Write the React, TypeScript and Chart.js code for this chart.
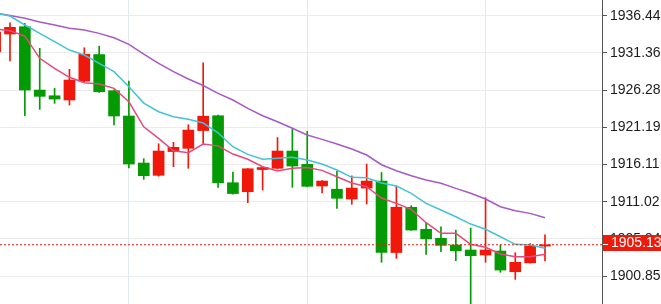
import React, { useEffect, useRef } from "react";
import { Chart, registerables } from "chart.js";

Chart.register(...registerables);

// Candles (index 0 is the partially visible one at the left edge)
const opens = [
  1931.48, 1933.94, 1934.94, 1926.28, 1925.5, 1924.92, 1927.51, 1931.13, 1926.19, 1922.73,
  1916.3, 1914.62, 1917.87, 1918.31, 1920.74, 1922.77, 1913.61, 1912.38, 1915.41, 1915.58,
  1917.94, 1916.12, 1913.16, 1912.72, 1911.38, 1912.88, 1913.84, 1904.07, 1910.25, 1907.24,
  1906.01, 1905.09, 1904.41, 1903.72, 1904.27, 1901.44, 1902.66, 1904.95,
];
const highs = [
  1934.48, 1935.48, 1935.4, 1931.98, 1926.51, 1929.11, 1932.06, 1932.3, 1926.3, 1927.51,
  1916.89, 1918.94, 1919.13, 1921.54, 1930.01, 1922.85, 1915.07, 1915.55, 1915.8, 1919.79,
  1920.91, 1920.64, 1913.9, 1915.17, 1914.55, 1916.16, 1915.0, 1913.16, 1910.47, 1908.17,
  1907.59, 1907.12, 1907.42, 1911.56, 1905.09, 1904.04, 1905.3, 1906.5,
];
const lows = [
  1931.4, 1930.25, 1922.77, 1923.64, 1924.46, 1924.23, 1927.4, 1925.95, 1921.5, 1915.62,
  1914.07, 1914.5, 1915.8, 1915.58, 1918.97, 1912.98, 1912.05, 1910.87, 1912.61, 1915.5,
  1912.98, 1913.05, 1912.2, 1910.11, 1910.66, 1910.7, 1902.73, 1903.27, 1907.1, 1903.82,
  1904.18, 1902.95, 1896.0, 1902.73, 1901.36, 1900.4, 1902.6, 1902.91,
];
const closes = [
  1934.21, 1934.85, 1926.28, 1925.42, 1925.05, 1927.65, 1931.16, 1926.05, 1922.73, 1916.17,
  1914.57, 1917.94, 1918.45, 1920.81, 1922.7, 1913.61, 1912.13, 1915.52, 1915.69, 1917.94,
  1915.89, 1913.12, 1913.84, 1911.48, 1912.88, 1913.84, 1904.09, 1910.26, 1907.14, 1905.94,
  1905.05, 1904.31, 1903.63, 1904.41, 1901.67, 1902.73, 1904.95, 1905.13,
];

// Moving averages
const maFast = [
  1934.62, 1934.39, 1933.66, 1930.62, 1929.25, 1928.02, 1927.28, 1927.1, 1926.51, 1924.68,
  1921.26, 1919.68, 1917.98, 1917.71, 1918.9, 1918.65, 1917.53, 1916.81, 1915.8, 1915.21,
  1915.58, 1915.69, 1915.3, 1914.43, 1913.57, 1913.06, 1911.52, 1910.79, 1909.97, 1908.14,
  1906.69, 1906.69, 1905.19, 1904.78, 1903.86, 1903.49, 1903.49, 1903.82,
];
const maMid = [
  1936.81, 1936.4, 1935.17, 1934.03, 1932.89, 1931.75, 1931.07, 1929.93, 1928.79, 1926.73,
  1924.5, 1923.32, 1922.63, 1922.28, 1921.77, 1920.44, 1918.53, 1917.49, 1916.81, 1916.95,
  1917.08, 1916.71, 1916.17, 1915.35, 1914.35, 1914.29, 1913.57, 1913.16, 1912.16, 1910.79,
  1909.88, 1908.96, 1907.96, 1907.24, 1906.23, 1905.19, 1905.09, 1904.64,
];
const maSlow = [
  1936.81, 1936.47, 1936.09, 1935.58, 1935.17, 1934.72, 1934.49, 1934.03, 1933.43, 1932.53,
  1931.2, 1929.93, 1928.79, 1927.79, 1926.9, 1925.83, 1924.92, 1923.78, 1922.77, 1921.95,
  1921.05, 1920.13, 1919.54, 1918.9, 1918.22, 1917.4, 1916.07, 1915.24, 1914.57, 1913.98,
  1913.53, 1912.84, 1912.16, 1911.38, 1910.33, 1909.78, 1909.42, 1908.82,
];

const yTicks = [1936.44, 1931.36, 1926.28, 1921.19, 1916.11, 1911.02, 1905.94, 1900.85];
const xGridAt = [9, 21, 33];
const lastPrice = 1905.13;

const X_MIN = 0.327;
const X_MAX = 40.836;
const Y_MIN = 1897.03;
const Y_MAX = 1938.59;

const UP = "#f0180a";
const DOWN = "#049a04";
const FONT = "'Liberation Sans', Arial, sans-serif";

export default function App() {
  const ref = useRef<HTMLCanvasElement>(null);

  useEffect(() => {
    const idx = opens.map((_, i) => i);
    const colors = idx.map((i) => (closes[i] >= opens[i] ? UP : DOWN));

    const priceBox = {
      id: "priceBox",
      afterDraw(chart: any) {
        const ys = chart.scales.y;
        const ctx = chart.ctx;
        const y = Math.round(ys.getPixelForValue(lastPrice));
        const left = ys.left + 1;
        ctx.save();
        ctx.fillStyle = "#ee1a0c";
        ctx.fillRect(left, y - 10, chart.width - left, 16);
        ctx.strokeStyle = "#ffffff";
        ctx.lineWidth = 1;
        ctx.beginPath();
        ctx.moveTo(left, y - 0.5);
        ctx.lineTo(left + 5, y - 0.5);
        ctx.stroke();
        ctx.fillStyle = "#ffffff";
        ctx.font = `14px ${FONT}`;
        ctx.textBaseline = "middle";
        ctx.textAlign = "left";
        ctx.fillText(lastPrice.toFixed(2), left + 8, y - 1.5);
        ctx.restore();
      },
    };

    const chart = new Chart(ref.current as HTMLCanvasElement, {
      type: "bar",
      data: {
        datasets: [
          {
            type: "line",
            data: [
              { x: X_MIN, y: lastPrice },
              { x: X_MAX, y: lastPrice },
            ],
            borderColor: UP,
            borderWidth: 1,
            borderDash: [2, 2],
            pointRadius: 0,
            order: 0,
          },
          {
            type: "line",
            data: idx.map((i) => ({ x: i, y: maFast[i] })),
            borderColor: "#e6497c",
            borderWidth: 1.5,
            pointRadius: 0,
            tension: 0,
            order: 1,
          },
          {
            type: "line",
            data: idx.map((i) => ({ x: i, y: maMid[i] })),
            borderColor: "#45c3d6",
            borderWidth: 1.5,
            pointRadius: 0,
            tension: 0,
            order: 2,
          },
          {
            type: "line",
            data: idx.map((i) => ({ x: i, y: maSlow[i] })),
            borderColor: "#a75ac6",
            borderWidth: 1.5,
            pointRadius: 0,
            tension: 0,
            order: 3,
          },
          {
            type: "bar",
            data: idx.map((i) => ({ x: i, y: [opens[i], closes[i]] })),
            backgroundColor: colors,
            borderWidth: 0,
            barThickness: 11,
            minBarLength: 1,
            grouped: false,
            order: 4,
          },
          {
            type: "bar",
            data: idx.map((i) => ({ x: i, y: [lows[i], highs[i]] })),
            backgroundColor: colors,
            borderWidth: 0,
            barThickness: 1,
            grouped: false,
            order: 5,
          },
        ] as any,
      },
      options: {
        animation: false,
        responsive: false,
        devicePixelRatio: 1,
        events: [],
        layout: { padding: 0 },
        plugins: { legend: { display: false }, tooltip: { enabled: false } },
        scales: {
          x: {
            type: "linear",
            min: X_MIN,
            max: X_MAX,
            offset: false,
            afterBuildTicks: (s: any) => {
              s.ticks = xGridAt.map((v) => ({ value: v }));
            },
            afterFit: (s: any) => {
              s.height = 0;
              s.paddingLeft = 0;
              s.paddingRight = 0;
            },
            ticks: { display: false },
            grid: { color: "#e2e8f0", drawTicks: false, offset: false },
            border: { display: false },
          },
          y: {
            position: "right",
            min: Y_MIN,
            max: Y_MAX,
            afterBuildTicks: (s: any) => {
              s.ticks = yTicks.map((v) => ({ value: v }));
            },
            afterFit: (s: any) => {
              s.width = 59;
              s.paddingTop = 0;
              s.paddingBottom = 0;
            },
            ticks: {
              callback: (v: any) => Number(v).toFixed(2),
              color: "#1c1c1c",
              font: { family: FONT, size: 14 },
              padding: 3,
            },
            grid: { color: "#ebebeb", tickColor: "#555555", tickLength: 5 },
            border: { display: true, color: "#555555", width: 1 },
          },
        },
      },
      plugins: [priceBox],
    });
    return () => chart.destroy();
  }, []);

  return (
    <div style={{ position: "absolute", left: 0, top: 0, width: 661, height: 304, background: "#fff" }}>
      <canvas ref={ref} width={661} height={304} style={{ display: "block" }} />
    </div>
  );
}
